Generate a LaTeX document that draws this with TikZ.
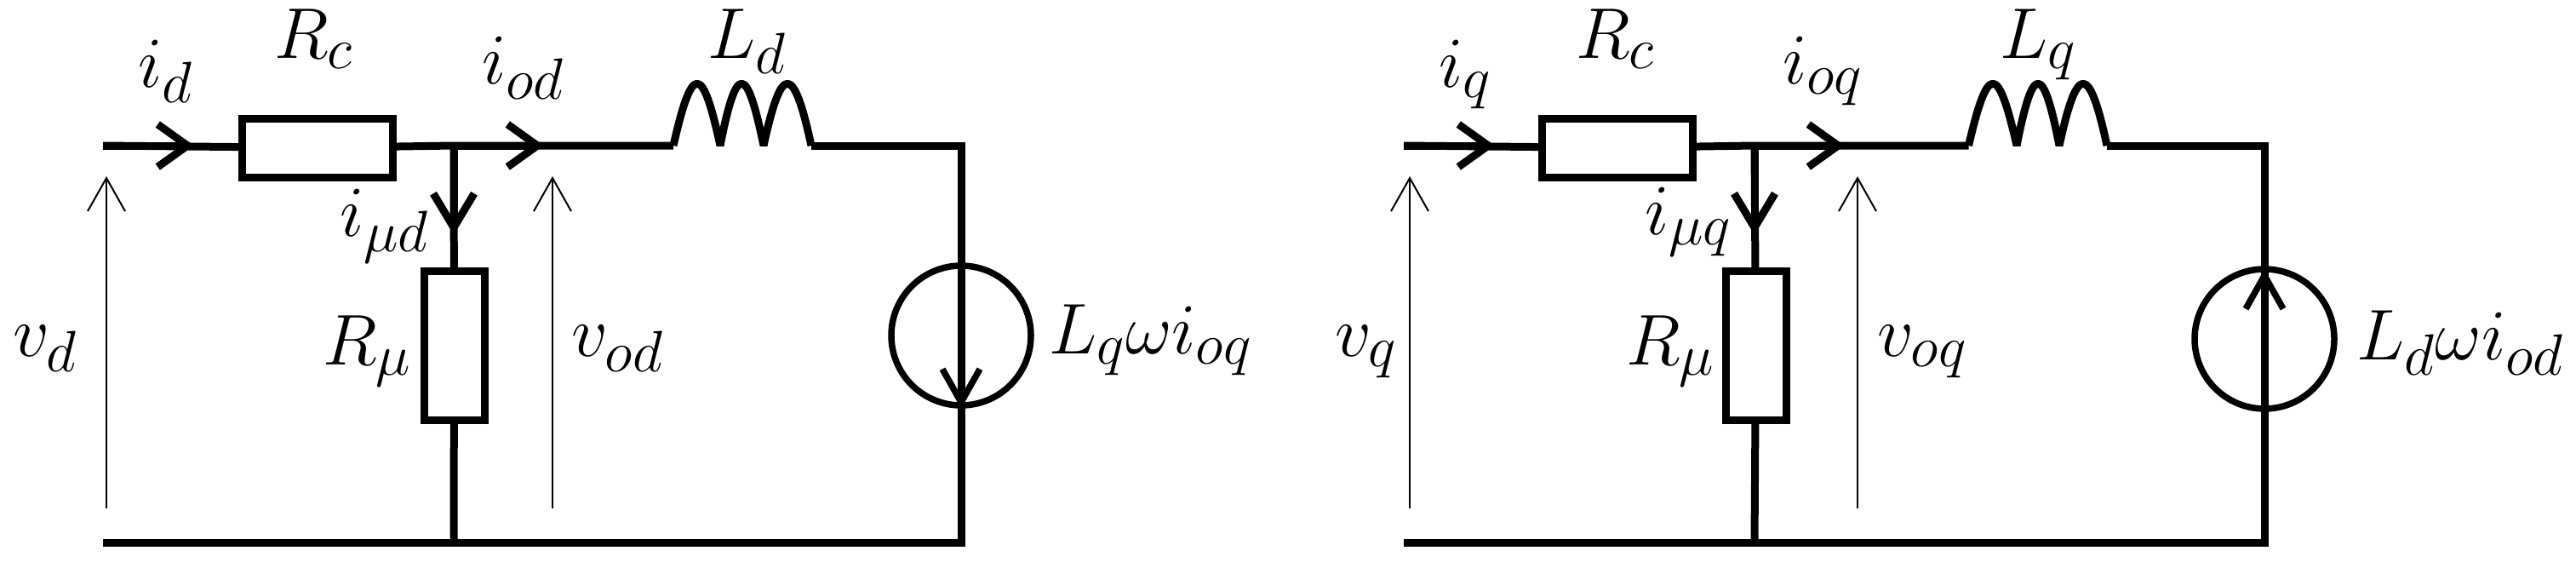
\documentclass[tikz,border=0pt]{standalone}
\usepackage{fix-cm}
\usepackage{amsmath}
\usepackage{tkz-euclide}
\usetikzlibrary{arrows.meta}
\DeclareMathSizes{24}{24}{19.5}{15}
\begin{document}
\begin{tikzpicture}[semithick,
wire/.style={line width=0.09cm,line join=bevel},
cur/.style={wire,-{Straight Barb[length=3.5mm,width=5mm]}},
drop/.style={wire,-{Straight Barb[length=4mm,width=4.8mm]}},
volt/.style={line width=0.02cm,-{Straight Barb[length=3.9mm,width=4.4mm]}},
src/.style={line width=0.075cm,-{Straight Barb[length=3.9mm,width=4.4mm]}},
res/.style={draw,line width=0.09cm,fill=white,inner sep=0,outer sep=0},
srcring/.style={draw,circle,line width=0.075cm,inner sep=0,outer sep=0,minimum size=1.64cm},
lbl/.style={anchor=base west,inner sep=0,outer sep=0,font=\fontsize{24}{29}\selectfont}]
\useasboundingbox (0,0) rectangle (30.26,6.66);
% d axis
\tkzDefPoints{1.21/4.95/A,2.28/4.95/Ia,5.33/4.95/J,6.39/4.95/Io,7.91/4.95/La,9.53/4.95/Lb,11.29/4.95/P,11.29/0.29/Q,5.33/0.29/G,1.21/0.29/B}
\tkzDefPoints{5.33/3.90/Im,1.25/0.69/Va,1.25/4.59/Vb,6.49/0.69/Wa,6.49/4.59/Wb,11.29/2.72/S,11.29/1.86/St}
\node[res,minimum width=1.77cm,minimum height=0.69cm] (Rc) at (3.725,4.925) {};
\node[res,minimum width=0.71cm,minimum height=1.75cm] (Rm) at (5.335,2.605) {};
\draw[wire,line join=miter](B)--(Q)--(P)--(Lb);
\draw[wire](A)--(Rc)(Rc)--(J)--(Rm)(Rm)--(G)(La)--(J);
\draw[wire](La)..controls(8.13,5.92)and(8.25,5.92)..(8.46,4.95)
..controls(8.65,5.92)and(8.77,5.92)..(8.97,4.95)
..controls(9.18,5.92)and(9.32,5.92)..(Lb);
\draw[cur](A)--(Ia);
\draw[cur](J)--(Io);
\draw[drop](J)--(Im);
\draw[volt](Va)--(Vb);
\draw[volt](Wa)--(Wb);
\node[srcring] (Sd) at (S) {};
\draw[src](P)--(St);
\node[lbl] (id) at (1.62,5.64) {$i_d$};
\node[lbl] (Rcd) at (3.22,5.98) {$R_c$};
\node[lbl] (iod) at (5.66,5.68) {$i_{od}$};
\node[lbl] (Ld) at (8.31,5.98) {$L_d$};
\node[lbl] (imd) at (3.99,3.89) {$i_{\mu d}$};
\node[lbl] (vd) at (0.15,2.48) {$v_d$};
\node[lbl] (Rmd) at (3.79,2.38) {$R_\mu$};
\node[lbl] (vod) at (6.71,2.48) {$v_{od}$};
\node[lbl] (Ed) at (12.32,2.51) {$L_q\omega i_{oq}$};
% q axis
\tkzDefPoints{16.49/4.95/Aq,17.56/4.95/Iaq,20.61/4.95/Jq,21.67/4.95/Ioq,23.125/4.95/Laq,24.75/4.95/Lbq,26.60/4.95/Pq,26.60/0.29/Qq,20.61/0.29/Gq,16.49/0.29/Bq}
\tkzDefPoints{20.61/3.90/Imq,16.56/0.69/Vaq,16.56/4.59/Vbq,21.82/0.69/Waq,21.82/4.59/Wbq,26.60/2.68/Sq,26.60/3.50/Stq}
\node[res,minimum width=1.77cm,minimum height=0.69cm] (Rcq) at (19.00,4.925) {};
\node[res,minimum width=0.71cm,minimum height=1.75cm] (Rmq) at (20.625,2.605) {};
\draw[wire,line join=miter](Bq)--(Qq)--(Pq)--(Lbq);
\draw[wire](Aq)--(Rcq)(Rcq)--(Jq)--(Rmq)(Rmq)--(Gq)(Laq)--(Jq);
\draw[wire](Laq)..controls(23.35,5.92)and(23.47,5.92)..(23.69,4.95)
..controls(23.88,5.92)and(24.00,5.92)..(24.19,4.95)
..controls(24.40,5.92)and(24.54,5.92)..(Lbq);
\draw[cur](Aq)--(Iaq);
\draw[cur](Jq)--(Ioq);
\draw[drop](Jq)--(Imq);
\draw[volt](Vaq)--(Vbq);
\draw[volt](Waq)--(Wbq);
\node[srcring] (Sdq) at (Sq) {};
\draw[src](Qq)--(Stq);
\node[lbl] (iq) at (16.90,5.64) {$i_q$};
\node[lbl] (Rcdq) at (18.51,5.98) {$R_c$};
\node[lbl] (ioq) at (20.94,5.68) {$i_{oq}$};
\node[lbl] (Lq) at (23.49,5.98) {$L_q$};
\node[lbl] (imq) at (19.32,3.91) {$i_{\mu q}$};
\node[lbl] (vq) at (15.68,2.48) {$v_q$};
\node[lbl] (Rmdq) at (19.10,2.38) {$R_\mu$};
\node[lbl] (voq) at (22.05,2.48) {$v_{oq}$};
\node[lbl] (Eq) at (27.68,2.44) {$L_d\omega i_{od}$};
\end{tikzpicture}
\end{document}
